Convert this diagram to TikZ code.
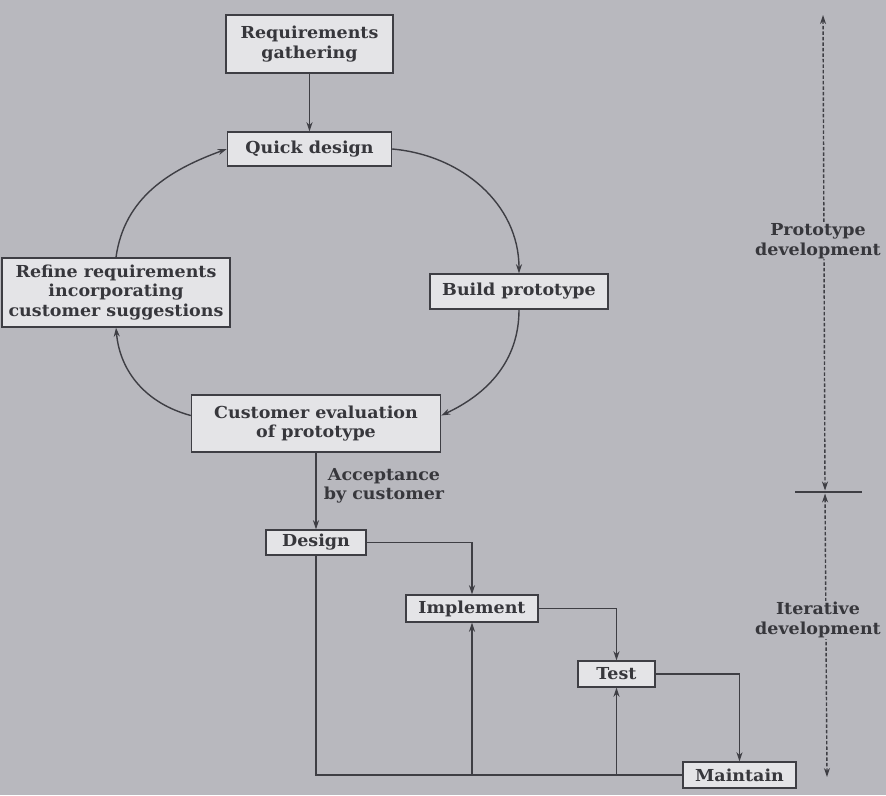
\documentclass[tikz,border=0pt]{standalone}
\usepackage{fontspec}
\setmainfont[FakeStretch=1.06]{DejaVu Serif}
\usetikzlibrary{arrows.meta}
\definecolor{bg}{RGB}{184,184,190}
\definecolor{boxfill}{RGB}{228,228,231}
\definecolor{ink}{RGB}{62,62,68}
\definecolor{txt}{RGB}{55,55,60}
\begin{document}
\begin{tikzpicture}[x=1pt,y={(0pt,-1pt)},
  box/.style={draw=ink, line width=1.4pt, fill=boxfill, text=txt, align=center,
    inner sep=0pt, font=\fontsize{16.5}{19.5}\selectfont\bfseries},
  conn/.style={draw=ink, line width=1.4pt},
  arr/.style={conn, -{Stealth[length=9pt,width=6pt]}},
  dimline/.style={draw=ink, line width=1.4pt, dash pattern=on 3.5pt off 2pt,
    {Stealth[length=9pt,width=6pt]}-{Stealth[length=9pt,width=6pt]}},
  lbl/.style={text=txt, align=center, inner sep=1pt, font=\fontsize{16.5}{19.5}\selectfont\bfseries}]
\fill[bg] (0,0) rectangle (886,795);
\useasboundingbox (0,0) rectangle (886,795);

% boxes
\node[box, minimum width=167pt, minimum height=58pt] (req) at (309.5,44) {Requirements\\gathering};
\node[box, minimum width=164pt, minimum height=34pt] (qd) at (309.5,149) {Quick design};
\node[box, minimum width=228pt, minimum height=69pt] (ref) at (116,292.5) {Refine requirements\\incorporating\\customer suggestions};
\node[box, minimum width=178pt, minimum height=35pt] (bp) at (519,291.5) {Build prototype};
\node[box, minimum width=249pt, minimum height=57pt] (ce) at (316,423.5) {Customer evaluation\\of prototype};
\node[box, minimum width=100pt, minimum height=25pt] (des) at (316,542.5) {Design};
\node[box, minimum width=132pt, minimum height=27pt] (imp) at (472,608.5) {Implement};
\node[box, minimum width=77pt, minimum height=26pt] (tst) at (616.5,674) {Test};
\node[box, minimum width=113pt, minimum height=26pt] (mnt) at (739.5,775) {Maintain};

\node[lbl] (acc) at (384,486) {Acceptance\\by customer};

% prototype loop
\draw[arr] (req.south) -- (qd.north);
\draw[arr] (qd.east) to[out=-5,in=90] (bp.north);
\draw[arr] (bp.south) to[out=-90,in=25] ([yshift=8pt]ce.east);
\draw[arr] ([yshift=8pt]ce.west) to[out=165,in=-85] (ref.south);
\draw[arr] (ref.north) to[out=82,in=200] (qd.west);
\draw[arr] (ce.south) -- (des.north);

% iterative part
\draw[arr] (des.east) -| (imp.north);
\draw[arr] (imp.east) -| (tst.north);
\draw[arr] (tst.east) -| (mnt.north);
\draw[conn] (des.south) |- (mnt.west);
\draw[arr] (imp.south |- mnt.west) -- (imp.south);
\draw[arr] (tst.south |- mnt.west) -- (tst.south);

% right-hand scale
\coordinate (top) at (823,15);
\coordinate (tick) at (825,492);
\coordinate (bot) at (827,777);
\coordinate (tl) at (795,492);
\coordinate (tr) at (862,492);
\draw[dimline] (top) -- ([yshift=1.5pt]tick);
\draw[dimline] ([yshift=-1.5pt]tick) -- (bot);
\draw[conn] (tl) -- (tr);
\node[lbl, fill=bg] (pd) at (818,241) {Prototype\\development};
\node[lbl, fill=bg] (id) at (818,620) {Iterative\\development};
\end{tikzpicture}
\end{document}
